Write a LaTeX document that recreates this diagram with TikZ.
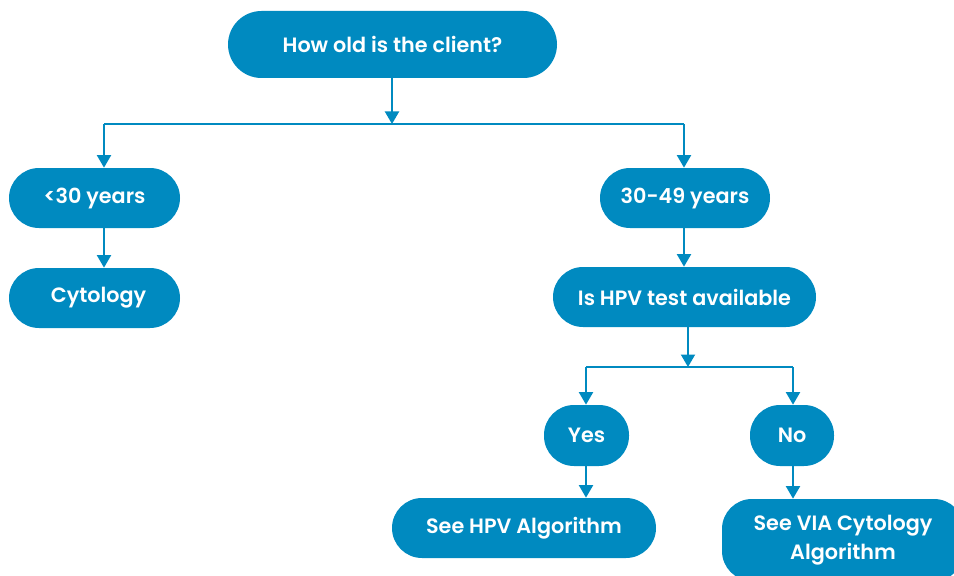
\documentclass[tikz,border=0pt]{standalone}
\usepackage{fontspec}
\setmainfont{Poppins}[BoldFont={Poppins SemiBold}]
\usepackage{tikz}
\usetikzlibrary{arrows.meta,shapes}
\definecolor{hpvblue}{HTML}{008AC0}

\begin{document}
\begin{tikzpicture}[
    pill/.style = {
      rectangle,
      rounded corners = 0.6cm,
      fill = hpvblue,
      text = white,
      font = \fontsize{11.8}{16.4}\selectfont\bfseries,
      inner sep = 0pt,
      minimum height = 1.2cm,
      align = center
    },
    flow/.style = {
      draw = hpvblue,
      line width = 1.1pt,
      -{Triangle[width=0.28cm,length=0.25cm]}
    },
    bus/.style = {
      draw = hpvblue,
      line width = 1.1pt
    }
  ]

  \useasboundingbox (0,0) rectangle (19.08,-11.52);
  \clip (0,0) rectangle (19.08,-11.52);

  % age question
  \node[pill, minimum width=6.58cm, minimum height=1.34cm, rounded corners=0.67cm] (age) at (7.85,-0.89) {How old is the client?};

  % left branch
  \node[pill, minimum width=3.42cm] (under) at (1.89,-3.96) {<30 years};
  \node[pill, minimum width=3.42cm] (cyto) at (1.89,-5.96) {\hspace{0.16cm}Cytology};

  % right branch
  \node[pill, minimum width=3.4cm] (mid) at (13.7,-3.96) {30-49 years};
  \node[pill, minimum width=5.26cm] (hpvq) at (13.69,-5.94) {Is HPV test available};
  \node[pill, minimum width=1.7cm, minimum height=1.22cm] (yes) at (11.73,-8.71) {Yes};
  \node[pill, minimum width=1.68cm, minimum height=1.22cm] (no) at (15.84,-8.71) {No};
  \node[pill, minimum width=5.28cm] (seehpv) at (10.48,-10.56) {See HPV Algorithm};
  \node[pill, minimum width=4.84cm, minimum height=1.64cm] (seevia) at (16.86,-10.8) {See VIA Cytology\\Algorithm};

  % splits
  \coordinate (split) at (7.84,-2.48);
  \coordinate (splitl) at (2.08,-2.48);
  \coordinate (splitr) at (13.68,-2.48);
  \coordinate (fork) at (13.76,-7.34);
  \coordinate (forkl) at (11.72,-7.34);
  \coordinate (forkr) at (15.86,-7.34);

  \draw[flow] (split |- age.south) -- (split);
  \draw[bus] (splitl) -- (splitr);
  \draw[flow] (splitl) -- (splitl |- under.north);
  \draw[flow] (splitr) -- (splitr |- mid.north);
  \draw[flow] (splitl |- under.south) -- (splitl |- cyto.north);
  \draw[flow] (splitr |- mid.south) -- (splitr |- hpvq.north);

  \draw[flow] (fork |- hpvq.south) -- (fork);
  \draw[bus] (forkl) -- (forkr);
  \draw[flow] (forkl) -- (forkl |- yes.north);
  \draw[flow] (forkr) -- (forkr |- no.north);
  \draw[flow] (forkl |- yes.south) -- (forkl |- seehpv.north);
  \draw[flow] (forkr |- no.south) -- (forkr |- seevia.north);

\end{tikzpicture}
\end{document}
